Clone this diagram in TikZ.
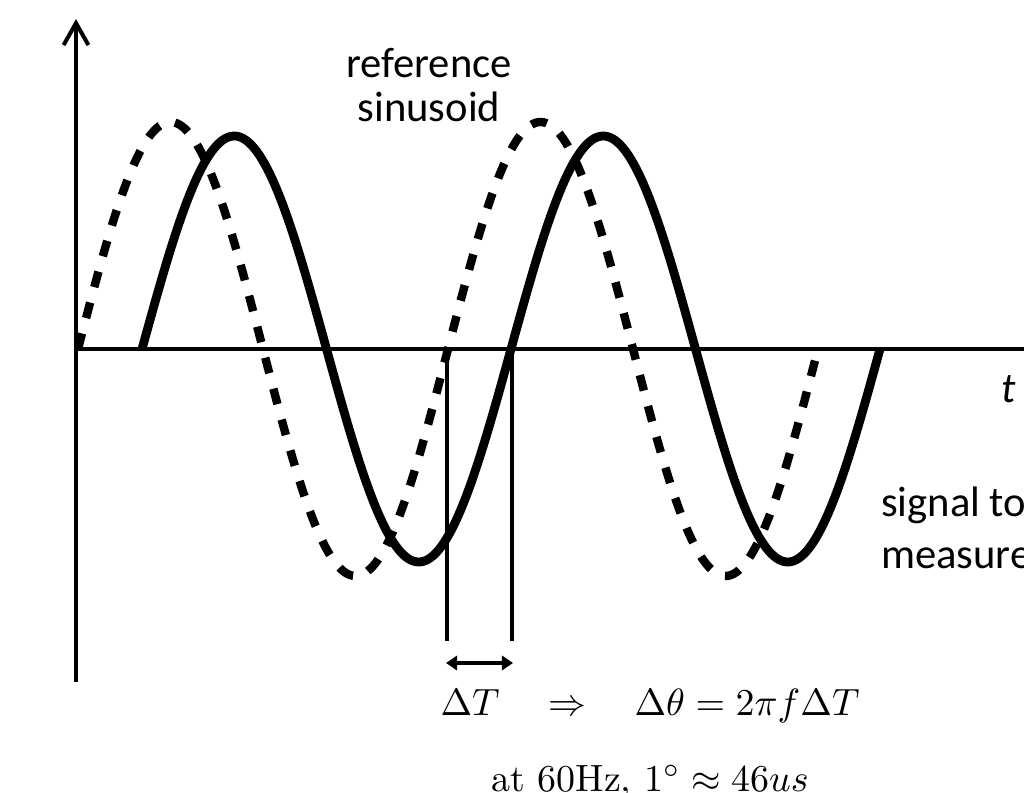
\documentclass[tikz,border=0pt]{standalone}
\usepackage{fontspec}
\newfontfamily\calib{Carlito}
\usetikzlibrary{arrows.meta}
\begin{document}
\begin{tikzpicture}[x=0.025cm,y=-0.025cm,
  axis/.style={line width=0.1cm},
  sig/.style={line width=0.22cm},
  refsig/.style={line width=0.21cm, dash pattern=on 0.4cm off 0.4cm},
  lbl/.style={font=\calib\fontsize{30.3}{31.3}\selectfont, inner sep=0pt},
  eq/.style={scale=2.7, inner sep=0pt}]
\useasboundingbox (0,0) rectangle (1024,793);
\clip (0,0) rectangle (1024,793);
% axes
\coordinate (O) at (76,349);
\coordinate (ytop) at (76,19);
\coordinate (ybot) at (76,682);
\coordinate (xend) at (1040,349);
\draw[axis,-{Straight Barb[length=0.55cm,width=0.62cm]}] (ybot) -- (ytop);
\draw[axis] (O) -- (xend);
% curves
\draw[sig] plot[domain=142:880, samples=300] (\x,{349-213*sin((\x-142)/369*360)});
\draw[refsig] plot[domain=78:818, samples=300] (\x,{349-227*sin((\x-78)/370*360)});
% delta T markers
\coordinate (d1) at (447,349);
\coordinate (d1b) at (447,641);
\coordinate (d2) at (512,349);
\coordinate (d2b) at (512,641);
\draw[axis] (d1) -- (d1b);
\draw[axis] (d2) -- (d2b);
\coordinate (a1) at (446,663);
\coordinate (a2) at (513,663);
\draw[axis,{Triangle[length=0.28cm,width=0.36cm]}-{Triangle[length=0.28cm,width=0.36cm]}] (a1) -- (a2);
% labels
\node[lbl, align=center, anchor=base] (ref) at (429,122) {reference\\sinusoid};
\node[lbl, anchor=base west] (tlab) at (1001,402) {\itshape t};
\node[lbl, align=left, anchor=base west, font=\calib\fontsize{30.3}{36.3}\selectfont] (siglab) at (881,568) {signal to\\measure};
\node[eq, anchor=base] (eq1) at (650,715) {$\Delta T \quad\Rightarrow\quad \Delta\theta = 2\pi f\Delta T$};
\node[eq, anchor=base] (eq2) at (650,791) {at 60Hz, $1^\circ\approx 46us$};
\end{tikzpicture}
\end{document}
